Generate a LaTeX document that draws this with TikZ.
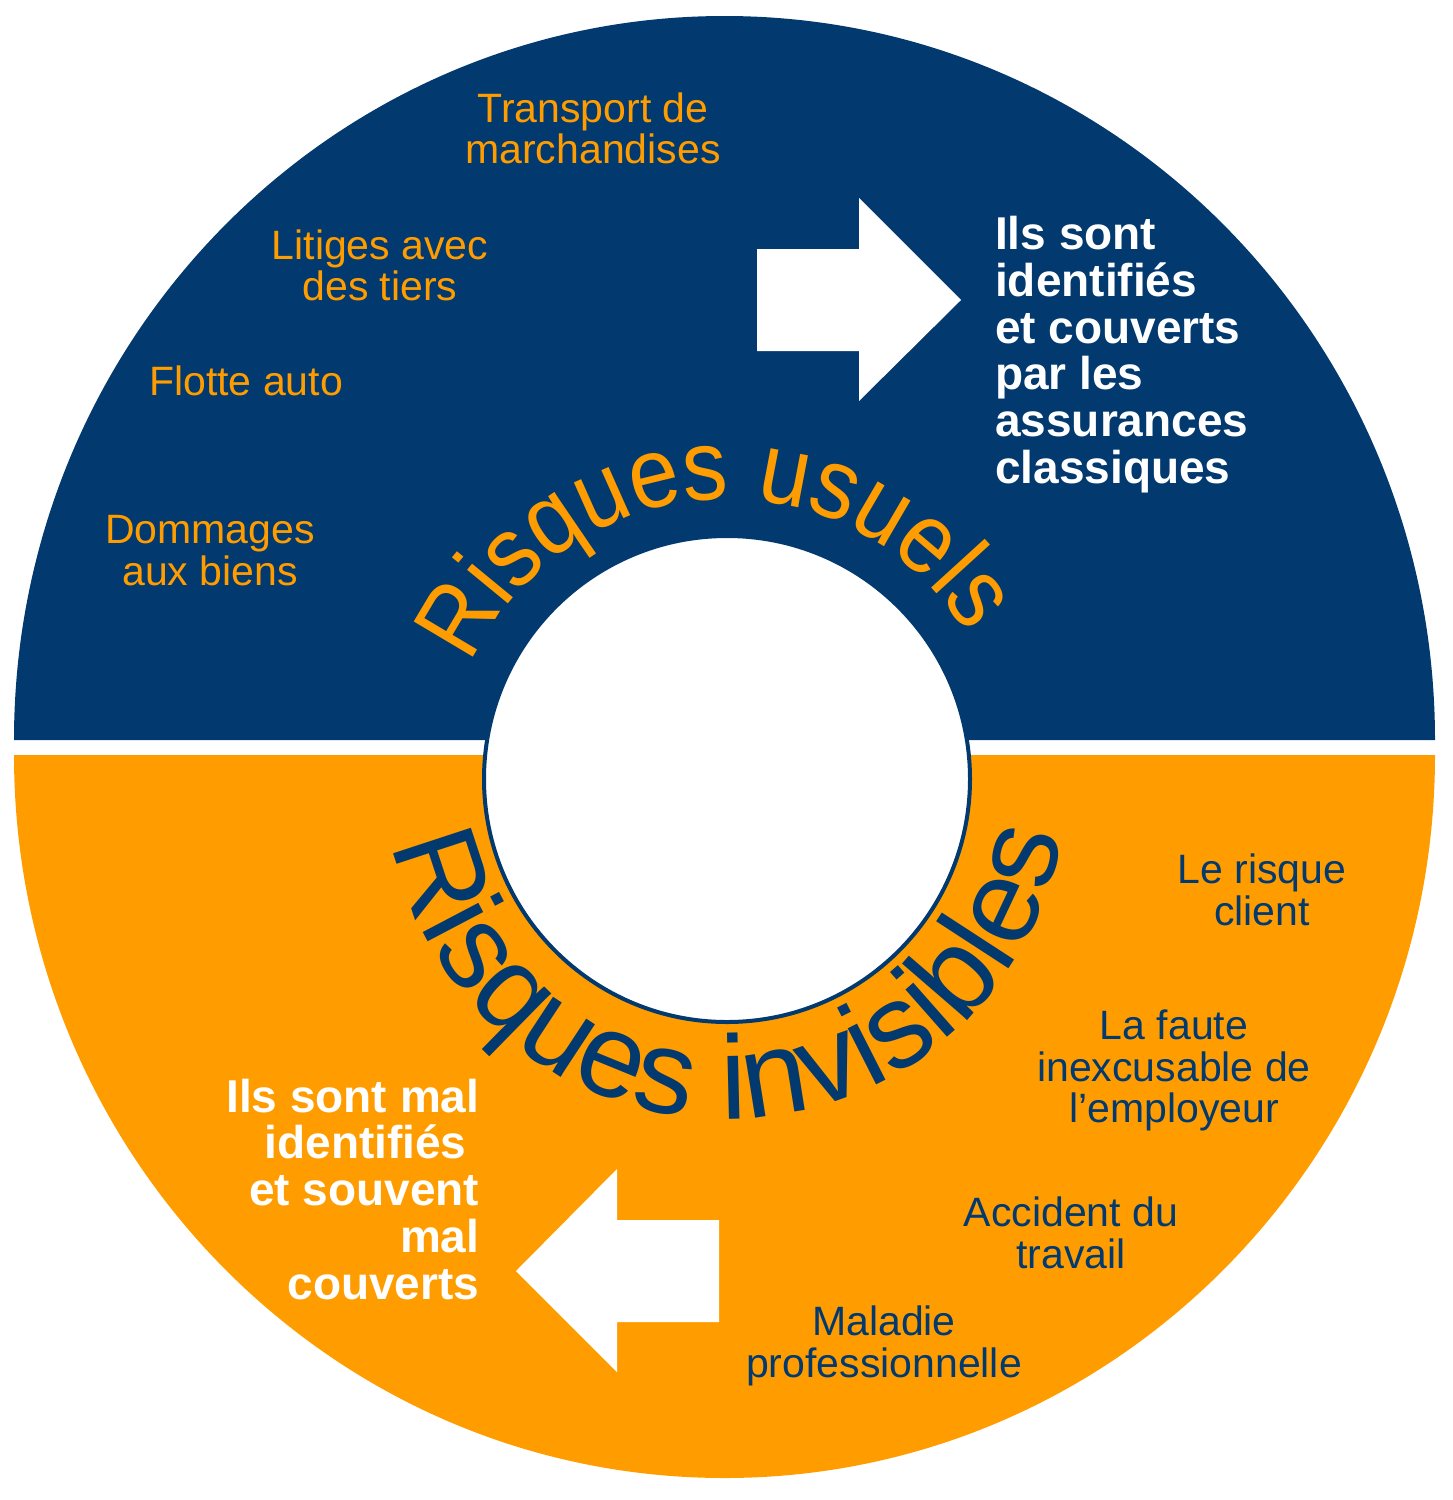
\documentclass[tikz,border=0pt]{standalone}
\usepackage{fontspec}
\setmainfont[Ligatures=NoCommon]{Liberation Sans}
\newfontfamily\arcfont[FakeStretch=0.9]{Liberation Sans}
\usetikzlibrary{decorations.text}
\definecolor{navy}{RGB}{2,57,111}
\definecolor{orng}{RGB}{255,157,0}
\begin{document}
\begin{tikzpicture}[x=1pt,y=-1pt,
  lbl/.style={inner sep=0pt, align=center, font=\fontsize{41}{41.5}\selectfont},
  toplbl/.style={lbl, text=orng},
  botlbl/.style={lbl, text=navy},
  bigwhite/.style={inner sep=0pt, text=white, font=\fontsize{46}{46.8}\selectfont\bfseries},
  arrowshape/.style={fill=white, draw=none}]
\useasboundingbox (0,0) rectangle (1453,1500);
% two halves
\fill[navy] (14,740) arc[start angle=180, end angle=360, x radius=710.5, y radius=724] -- cycle;
\fill[orng] (14,755) arc[start angle=180, end angle=0, x radius=710.5, y radius=723] -- cycle;
% hub
\node (hub) [circle, draw=navy, line width=4pt, fill=white, minimum size=486pt, inner sep=0pt] at (727,779) {};
\coordinate (hubc) at (727,779);
% arrows
\path[arrowshape] (757,249) -- (859,249) -- (859,198) -- (961,300) -- (859,401) -- (859,351) -- (757,351) -- cycle;
\path[arrowshape] (719,1220) -- (617,1220) -- (617,1169) -- (516,1271) -- (617,1372) -- (617,1322) -- (719,1322) -- cycle;
% curved titles
\path[decorate, decoration={text along path, text align=center,
  text={|\arcfont\fontsize{100}{100}\selectfont\color{orng}|Risques usuels}}]
  ([shift={(-178.5:280)}]hubc) arc[start angle=-178.5, end angle=-8.5, radius=280];
\path[decorate, decoration={text along path, text align=center,
  text={|\fontsize{119}{119}\selectfont\color{navy}|Risques invisibles}}]
  ([shift={(-185.7:340)}]hubc) arc[start angle=-185.7, end angle=-355.7, radius=340];
% labels top
\node[toplbl] (transport) at (593,128.5) {Transport de\\marchandises};
\node[toplbl] (litiges) at (380,265.5) {Litiges avec\\des tiers};
\node[toplbl] (flotte) at (246,380.5) {Flotte auto};
\node[toplbl] (dommages) at (210,550.5) {Dommages\\aux biens};
% labels bottom
\node[botlbl] (client) at (1262,890) {Le risque\\client};
\node[botlbl] (faute) at (1174,1070.5) {La faute\\inexcusable de\\l’employeur};
\node[botlbl] (accident) at (1071,1233) {Accident du\\travail};
\node[botlbl] (maladie) at (884,1346) {Maladie\\professionnelle};
% white statements
\node[bigwhite, align=left, anchor=north west] (couverts) at (995,216)
  {Ils sont\\identifiés\\et couverts\\par les\\assurances\\classiques};
\node[bigwhite, align=right, anchor=north east] (malcouverts) at (479.5,1078.5)
  {Ils sont mal\\identifiés\kern0.278em\\et souvent\\mal\\couverts};
\end{tikzpicture}
\end{document}
